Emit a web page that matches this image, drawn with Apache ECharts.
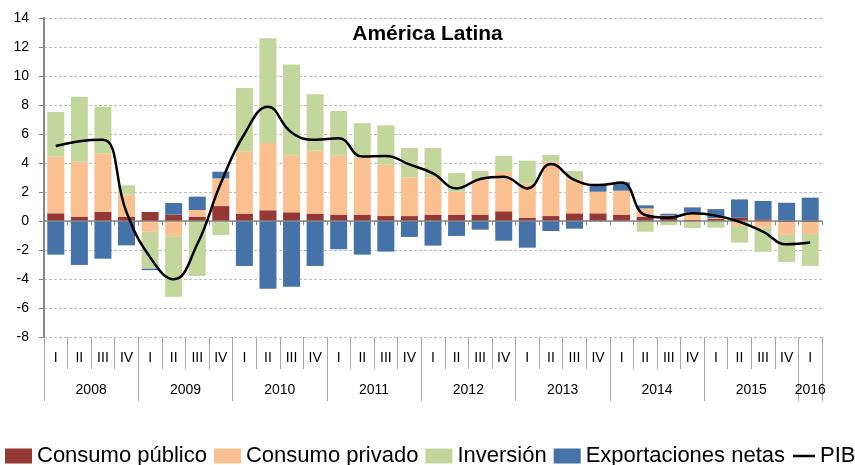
<!DOCTYPE html>
<html>
<head>
<meta charset="utf-8">
<script src="https://cdn.jsdelivr.net/npm/echarts@6/dist/echarts.min.js"></script>
<style>
html,body{margin:0;padding:0;background:#fff;}
#chart{width:855px;height:465px;}
</style>
</head>
<body>
<div id="chart"></div>
<script>
// ---- Data ----
const quarters = ['I','II','III','IV','I','II','III','IV','I','II','III','IV','I','II','III','IV','I','II','III','IV','I','II','III','IV','I','II','III','IV','I','II','III','IV','I'];
const years = ['2008','2009','2010','2011','2012','2013','2014','2015','2016'];
const consumoPublico = [0.53,0.30,0.62,0.30, 0.62,0.44,0.30,1.03, 0.51,0.74,0.60,0.51, 0.44,0.44,0.34,0.34, 0.44,0.44,0.44,0.67, 0.23,0.34,0.53,0.53, 0.44,0.30,0.37,0.07, 0.15,0.23,0.12,-0.09, -0.09];
const consumoPrivado = [3.91,3.79,4.05,1.52, -0.74,-1.06,0.46,1.91, 4.30,4.64,3.93,4.36, 4.09,3.93,3.55,2.67, 2.57,1.58,2.43,2.73, 2.34,3.75,2.34,1.49, 1.65,0.57,0.02,0.53, 0.05,-0.34,-0.46,-0.87, -0.80];
const inversion = [3.08,4.48,3.22,0.64, -2.55,-4.16,-3.79,-0.97, 4.37,7.22,6.27,3.87, 3.06,2.37,2.71,2.02, 2.02,1.29,0.58,1.08, 1.59,0.46,0.58,0, 0,-0.74,-0.28,-0.48, -0.46,-1.15,-1.66,-1.86, -2.21];
const exportacionesNetas = [-2.32,-3.03,-2.60,-1.68, -0.10,0.80,0.92,0.46, -3.10,-4.67,-4.53,-3.10, -1.95,-2.32,-2.11,-1.10, -1.70,-1.03,-0.60,-1.36, -1.84,-0.69,-0.53,0.51, 0.58,0.21,0.11,0.34, 0.62,1.26,1.26,1.26, 1.61];
const pib = [5.17,5.5,5.6,0.6, -2.5,-4.02,-1.6,2.6, 6.0,7.88,6.1,5.6, 5.7,4.44,4.48,3.9, 3.29,2.25,2.9,3.06, 2.25,3.93,2.83,2.48, 2.65,0.41,0.23,0.53, 0.37,-0.05,-0.74,-1.61, -1.49];
const yTicks = {min: -8, max: 14, interval: 2};

// year label per quarter index (shown at middle of each year)
const yearOfIndex = quarters.map((q, i) => years[Math.floor(i / 4)]);

const FONT = 'Liberation Sans, Arial, sans-serif';
const chart = echarts.init(document.getElementById('chart'), null, {renderer: 'canvas'});
const band = (855 - 44 - 33) / quarters.length;

const barBase = {type: 'bar', stack: 'total', barWidth: 17, xAxisIndex: 0, yAxisIndex: 0};
const legendText = {fontFamily: FONT, fontSize: 22, color: '#000'};

chart.setOption({
  animation: false,
  backgroundColor: '#ffffff',
  title: {
    text: 'América Latina',
    left: 'center',
    top: 24,
    padding: [0, 0, 0, 10],
    textStyle: {fontFamily: FONT, fontSize: 21, fontWeight: 'bold', color: '#000'}
  },
  grid: {left: 44, right: 33, top: 18, bottom: 128, containLabel: false},
  legend: [
    {
      left: 5, top: 445, padding: 0,
      itemWidth: 27, itemHeight: 15, itemGap: 7,
      textStyle: legendText,
      data: [
        {name: 'Consumo público', icon: 'rect'},
        {name: 'Consumo privado', icon: 'rect'},
        {name: 'Inversión', icon: 'rect'},
        {name: 'Exportaciones netas', icon: 'rect'}
      ]
    },
    {
      left: 793, top: 445, padding: 0,
      itemWidth: 22, itemHeight: 2.5,
      textStyle: legendText,
      data: [{name: 'PIB', icon: 'rect', itemStyle: {color: '#000'}}]
    }
  ],
  xAxis: [
    {
      type: 'category', data: quarters, position: 'bottom', z: 3,
      axisLine: {show: true, onZero: true, lineStyle: {color: '#868686', width: 1.5}},
      axisTick: {show: true, interval: 0, length: 4, lineStyle: {color: '#868686'}},
      axisLabel: {show: false},
      splitLine: {show: false}
    },
    {
      type: 'category', data: quarters, position: 'bottom', offset: 0,
      axisLine: {show: false, onZero: false},
      axisTick: {show: true, interval: 0, length: 32, lineStyle: {color: '#A6A6A6'}},
      axisLabel: {show: true, interval: 0, margin: 14, fontFamily: FONT, fontSize: 14, color: '#000'},
      splitLine: {show: false}
    },
    {
      type: 'category', data: yearOfIndex, position: 'bottom', offset: 0,
      axisLine: {show: false, onZero: false},
      axisTick: {show: true, interval: (i) => i % 4 === 0, length: 64, lineStyle: {color: '#A6A6A6'}},
      axisLabel: {
        show: true, margin: 46,
        interval: (i) => i % 4 === 1 || i === quarters.length - 1 && i % 4 === 0,
        formatter: (v, i) => (i % 4 === 1 ? '{s|' + v + '}' : '{c|' + v + '}'),
        rich: {
          s: {fontFamily: FONT, fontSize: 14, color: '#000', padding: [0, 0, 0, band]},
          c: {fontFamily: FONT, fontSize: 14, color: '#000'}
        }
      },
      splitLine: {show: false}
    }
  ],
  yAxis: {
    type: 'value', min: yTicks.min, max: yTicks.max, interval: yTicks.interval,
    axisLine: {show: true, lineStyle: {color: '#868686', width: 2}},
    axisTick: {show: true, length: 5, lineStyle: {color: '#868686'}},
    axisLabel: {margin: 15, fontFamily: FONT, fontSize: 14, color: '#000'},
    splitLine: {show: true, lineStyle: {color: '#BFBFBF', type: [3, 2], width: 1}}
  },
  series: [
    Object.assign({}, barBase, {name: 'Consumo público', data: consumoPublico, itemStyle: {color: '#953735'}}),
    Object.assign({}, barBase, {name: 'Consumo privado', data: consumoPrivado, itemStyle: {color: '#FAC090'}}),
    Object.assign({}, barBase, {name: 'Inversión', data: inversion, itemStyle: {color: '#C3D69B'}}),
    Object.assign({}, barBase, {name: 'Exportaciones netas', data: exportacionesNetas, itemStyle: {color: '#4572A7'}}),
    {
      name: 'PIB', type: 'line', data: pib, smooth: 0.45, symbol: 'none', z: 5,
      xAxisIndex: 0, yAxisIndex: 0,
      lineStyle: {color: '#000', width: 2.5}, itemStyle: {color: '#000'}
    }
  ]
});
</script>
</body>
</html>
